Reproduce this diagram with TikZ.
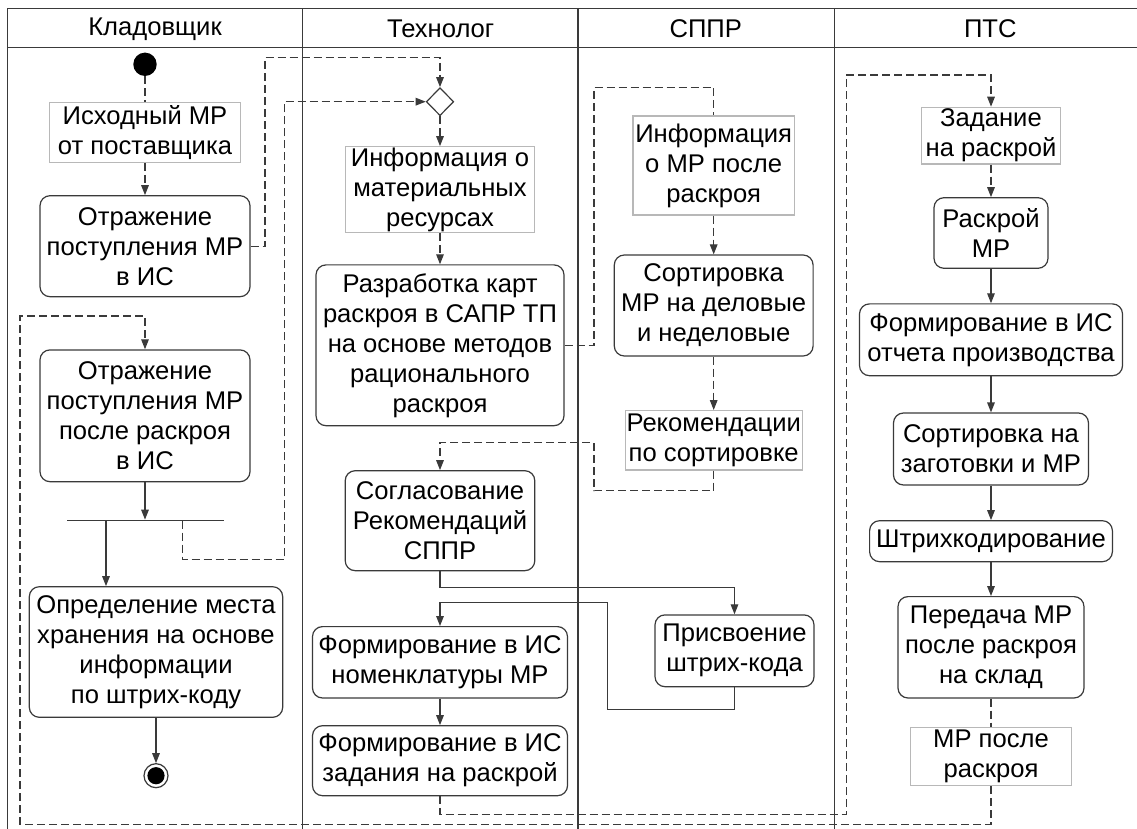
\documentclass[tikz,border=0pt]{standalone}
\usepackage{fontspec}
\setmainfont{Liberation Sans}
\usetikzlibrary{arrows.meta,shapes.geometric}
\definecolor{ln}{HTML}{3A3A3A}
\definecolor{objc}{HTML}{B8B8B8}
\begin{document}
\begin{tikzpicture}[x=0.5pt,y=-0.5pt,
  every node/.style={font=\fontsize{12.8}{15}\selectfont, text=black},
  act/.style={draw=ln, line width=0.6pt, rounded corners=5pt, align=center, inner sep=0pt},
  obj/.style={draw=objc, line width=0.6pt, align=center, inner sep=0pt},
  flow/.style={draw=ln, line width=0.6pt},
  arr/.style={-{Triangle[length=5pt,width=3.8pt]}},
  dsh/.style={dash pattern=on 4pt off 2pt},
  lane/.style={draw=ln, line width=0.7pt}]
\useasboundingbox (0,0) rectangle (1137,829);
% frame and lanes
\draw[lane] (7.3,829) -- (7.3,8.3) -- (1137,8.3);
\draw[lane] (7.3,47.7) -- (1137,47.7);
\draw[lane] (302.7,8.3) -- (302.7,829);
\draw[lane] (578,8.3) -- (578,829);
\draw[lane] (834.3,8.3) -- (834.3,829);
\node (h1) at (155,29) {Кладовщик};
\node (h2) at (440.7,29) {Технолог};
\node (h3) at (705.7,29) {СППР};
\node (h4) at (990.3,29) {ПТС};
% Кладовщик
\node[circle, fill=black, minimum size=11.7pt, inner sep=0pt] (start) at (145,64.3) {};
\node[obj, minimum width=95.4pt, minimum height=29.8pt] (o1) at (145,132.5) {Исходный МР\\от поставщика};
\node[act, minimum width=105pt, minimum height=50.5pt] (a1) at (145,246.2) {Отражение\\поступления МР\\в ИС};
\node[act, minimum width=105pt, minimum height=65.9pt] (a2) at (145,415.8) {Отражение\\поступления МР\\после раскроя\\в ИС};
\node[fill=ln, minimum width=78.65pt, minimum height=0.7pt, inner sep=0pt] (bar) at (145.35,520.7) {};
\coordinate (b1) at (106,520.7);
\coordinate (b2) at (182.7,520.7);
\node[act, minimum width=126.7pt, minimum height=65.3pt] (a3) at (156,652) {Определение места\\хранения на основе\\информации\\по штрих-коду};
\node[circle, draw=ln, line width=0.6pt, minimum size=12pt, inner sep=0pt] (end) at (156,775.7) {};
\node[circle, fill=black, minimum size=8.6pt, inner sep=0pt] (endin) at (end.center) {};
% Технолог
\node[diamond, draw=ln, line width=0.6pt, aspect=1, minimum width=13.7pt, minimum height=14pt, inner sep=0pt] (dia) at (440,101.7) {};
\node[obj, minimum width=94.7pt, minimum height=42.8pt] (o2) at (440,189.5) {Информация о\\материальных\\ресурсах};
\node[act, minimum width=124pt, minimum height=80.4pt] (a4) at (440,345.3) {Разработка карт\\раскроя в САПР ТП\\на основе методов\\рационального\\раскроя};
\node[act, minimum width=94.8pt, minimum height=50pt] (a5) at (440,520.7) {Согласование\\Рекомендаций\\СППР};
\node[act, minimum width=127.5pt, minimum height=35.7pt] (a6) at (440,662.3) {Формирование в ИС\\номенклатуры МР};
\node[act, minimum width=127.5pt, minimum height=35pt] (a7) at (440,760.7) {Формирование в ИС\\задания на раскрой};
% СППР
\node[obj, minimum width=80.7pt, minimum height=49.5pt] (o3) at (713.7,165.5) {Информация\\о МР после\\раскроя};
\node[act, minimum width=99.4pt, minimum height=50.5pt] (a8) at (713.7,305.5) {Сортировка\\МР на деловые\\и неделовые};
\node[obj, minimum width=88.5pt, minimum height=29.7pt] (o4) at (713.7,440.3) {Рекомендации\\по сортировке};
\node[act, minimum width=79.5pt, minimum height=35.9pt] (a9) at (734.5,650.8) {Присвоение\\штрих-кода};
% ПТС
\node[obj, minimum width=69.5pt, minimum height=28.4pt] (o5) at (991,135.7) {Задание\\на раскрой};
\node[act, minimum width=57pt, minimum height=35.3pt] (a10) at (991,233) {Раскрой\\МР};
\node[act, minimum width=131.5pt, minimum height=35.9pt] (a11) at (991,339.8) {Формирование в ИС\\отчета производства};
\node[act, minimum width=97.5pt, minimum height=36pt] (a12) at (991,449) {Сортировка на\\заготовки и МР};
\node[act, minimum width=121.4pt, minimum height=20.5pt] (a13) at (991,541.2) {Штрихкодирование};
\node[act, minimum width=93pt, minimum height=50.7pt] (a14) at (991,647.3) {Передача МР\\после раскроя\\на склад};
\node[obj, minimum width=80.5pt, minimum height=29.2pt] (o6) at (991,756.5) {МР после\\раскроя};
% connectors
\draw[flow,dsh] (start) -- (o1);
\draw[flow,dsh,arr] (o1) -- (a1);
\draw[flow,dsh,arr] (a1.east) -| (265,57.3) -| (dia.north);
\draw[flow,arr] (a2) -- (a2.south |- bar.north);
\draw[flow,arr] (b1) -- (b1 |- a3.north);
\draw[flow,dsh,arr] (b2) |- (284.3,559.7) |- (dia.west);
\draw[flow,arr] (a3) -- (end);
\draw[flow,dsh,arr] (dia) -- (o2);
\draw[flow,dsh,arr] (o2) -- (a4);
\draw[flow,dsh] (a4.east) -| (594,87.3) -| (o3.north);
\draw[flow,dsh,arr] (o3) -- (a8);
\draw[flow,dsh,arr] (a8) -- (o4);
\draw[flow,dsh,arr] (o4.south) |- (594,490.7) |- (440,442.3) -- (a5.north);
\draw[flow,arr] (a5.south) -- ++(0,16) -| (a9.north);
\draw[flow,arr] (a9.south) -- ++(0,22.3) -| (607.3,602.3) -| (a6.north);
\draw[flow,arr] (a6) -- (a7);
\draw[flow,dsh,arr] (a7.south) -- ++(0,18.3) -| (846.3,75) -| (o5.north);
\draw[flow,dsh,arr] (o5) -- (a10);
\draw[flow,arr] (a10) -- (a11);
\draw[flow,arr] (a11) -- (a12);
\draw[flow,arr] (a12) -- (a13);
\draw[flow,arr] (a13) -- (a14);
\draw[flow,dsh] (a14) -- (o6);
\draw[flow,dsh,arr] (o6.south) -- ++(0,37.8) -| (20,316) -| (a2.north);
\end{tikzpicture}
\end{document}
